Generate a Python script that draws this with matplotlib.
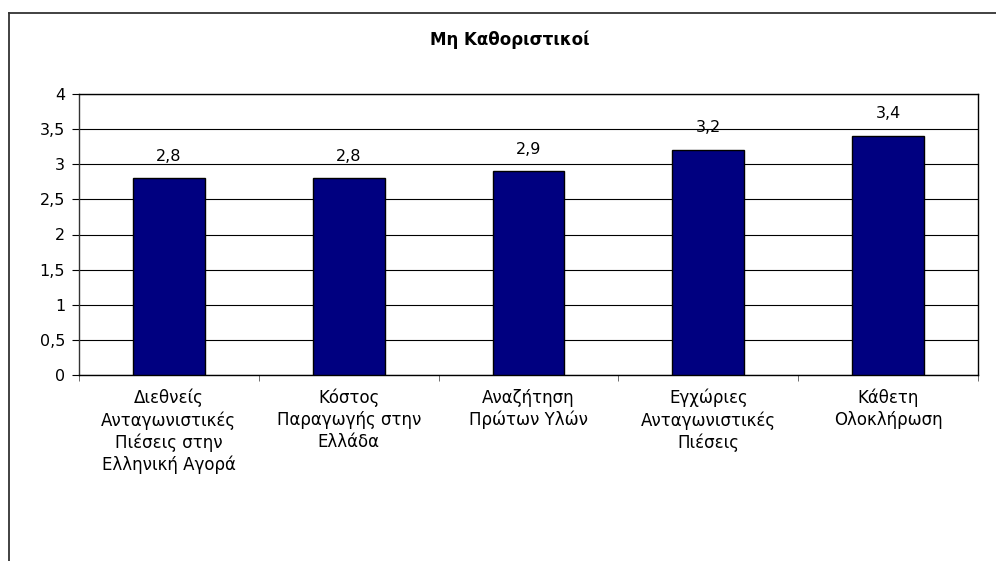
import matplotlib.pyplot as plt
from matplotlib.lines import Line2D
from matplotlib.ticker import FuncFormatter, MultipleLocator
import numpy as np

plt.rcParams['font.family'] = ['DejaVu Sans']

categories = [
    'Διεθνείς\nΑνταγωνιστικές\nΠιέσεις στην\nΕλληνική Αγορά',
    'Κόστος\nΠαραγωγής στην\nΕλλάδα',
    'Αναζήτηση\nΠρώτων Υλών',
    'Εγχώριες\nΑνταγωνιστικές\nΠιέσεις',
    'Κάθετη\nΟλοκλήρωση',
]
values = [2.8, 2.8, 2.9, 3.2, 3.4]
title = 'Μη Καθοριστικοί'

W, H = 996, 561
fig = plt.figure(figsize=(W / 100, H / 100), dpi=100)

# outer chart frame (only left and top edges visible in the original)
fig.add_artist(Line2D([9 / W, 9 / W], [0, 1 - 13 / H], color='#333333', lw=1.3))
fig.add_artist(Line2D([9 / W, 1], [1 - 13 / H, 1 - 13 / H], color='#333333', lw=1.3))

left, right, top, bottom = 79, 978, 94, 375
ax = fig.add_axes([left / W, 1 - bottom / H, (right - left) / W, (bottom - top) / H])

x = np.arange(len(values))
bars = ax.bar(x, values, width=0.4, color='#000080', edgecolor='black', linewidth=1, zorder=3)

ax.set_xlim(-0.5, len(values) - 0.5)
ax.set_ylim(0, 4)
ax.yaxis.set_major_locator(MultipleLocator(0.5))
ax.yaxis.set_major_formatter(FuncFormatter(lambda v, p: f'{v:g}'.replace('.', ',')))
ax.grid(axis='y', color='black', linewidth=0.8, zorder=0)

ax.set_xticks(x)
ax.set_xticklabels(categories, fontsize=12, linespacing=1.26)
ax.set_xticks(np.arange(len(values) + 1) - 0.5, minor=True)
ax.tick_params(axis='x', which='major', length=0, pad=10)
ax.tick_params(axis='x', which='minor', length=4, color='#555555')
ax.tick_params(axis='y', length=5, labelsize=11.5, pad=5)

for s in ax.spines.values():
    s.set_linewidth(1)
    s.set_color('black')
ax.spines['left'].set_color('#333333')

for b, v in zip(bars, values):
    ax.annotate(f'{v:g}'.replace('.', ','), (b.get_x() + b.get_width() / 2, v),
                xytext=(0, 16), textcoords='offset points', ha='center', va='center', fontsize=11.5)

fig.text(510 / W, 1 - 40 / H, title, ha='center', va='center', fontsize=12, fontweight='bold')

plt.savefig('out.png', dpi=100)
